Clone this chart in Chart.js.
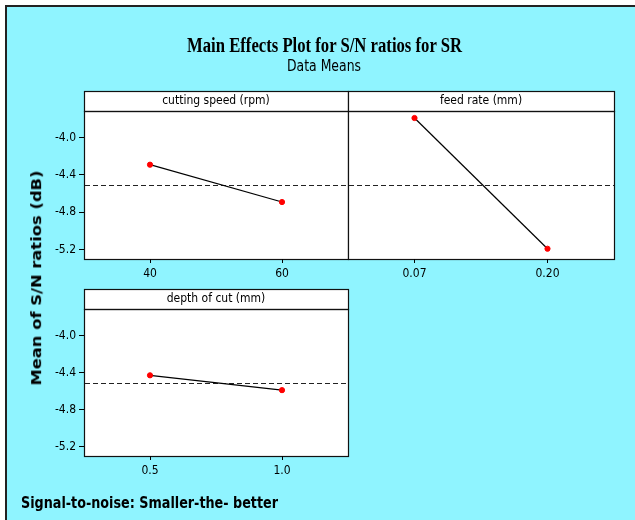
<!DOCTYPE html>
<html><head><meta charset="utf-8">
<script src="https://cdn.jsdelivr.net/npm/chart.js@4/dist/chart.umd.min.js"></script>
<style>
html,body{margin:0;padding:0;background:#fff;width:635px;height:520px;overflow:hidden;}
#frame{position:absolute;left:5px;top:5px;width:640px;height:525px;background:#8ff4ff;border-left:2px solid #222;border-top:2px solid #222;box-sizing:border-box;}
canvas{position:absolute;left:0;top:0;}
.txt{position:absolute;white-space:nowrap;color:#000;line-height:1;transform-origin:0 0;}
#title{font-family:"Liberation Serif","Times New Roman",serif;font-weight:bold;font-size:20px;top:34.5px;}
#sub{font-family:"DejaVu Sans Condensed","DejaVu Sans",sans-serif;font-size:16.5px;top:57.8px;}
#foot{font-family:"DejaVu Sans Condensed","DejaVu Sans",sans-serif;font-weight:bold;font-size:15px;top:496.2px;left:21px;}
#ylab{font-family:"DejaVu Sans","Verdana",sans-serif;font-weight:bold;font-size:14px;transform-origin:50% 50%;}
</style></head>
<body>
<div id="frame"></div>
<canvas id="c1" width="635" height="520"></canvas>
<canvas id="c2" width="635" height="520"></canvas>
<canvas id="c3" width="635" height="520"></canvas>
<div class="txt" id="title">Main Effects Plot for S/N ratios for SR</div>
<div class="txt" id="sub">Data Means</div>
<div class="txt" id="ylab">Mean of S/N ratios (dB)</div>
<div class="txt" id="foot">Signal-to-noise: Smaller-the- better</div>
<script>
// ---- data ----
const speedLabels = ['40', '60'];
const speedSN = [-4.29, -4.69];
const feedLabels = ['0.07', '0.20'];
const feedSN = [-3.79, -5.19];
const depthLabels = ['0.5', '1.0'];
const depthSN = [-4.43, -4.59];
const grandMean = [-4.51];
const yTicks = [-4.0, -4.4, -4.8, -5.2];
const panelTitles = ['cutting speed (rpm)', 'feed rate (mm)', 'depth of cut (mm)'];

// ---- text fitting ----
function fitH(id, left, width) {
  const el = document.getElementById(id);
  const w = el.getBoundingClientRect().width;
  el.style.left = left + 'px';
  el.style.transform = 'scaleX(' + (width / w) + ')';
}
fitH('title', 187, 275);
fitH('sub', 287, 74);
fitH('foot', 21, 257);
(function () {
  const el = document.getElementById('ylab');
  const r = el.getBoundingClientRect();
  const cx = 36, cy = 277.5, L = 215;
  el.style.left = (cx - r.width / 2) + 'px';
  el.style.top = (cy - r.height / 2) + 'px';
  el.style.transform = 'rotate(-90deg) scaleX(' + (L / r.width) + ')';
})();

// ---- chart panels ----
const tickFont = { family: '"DejaVu Sans Condensed","DejaVu Sans",sans-serif', size: 12 };
const headFont = { family: '"DejaVu Sans Condensed","DejaVu Sans",sans-serif', size: 12, weight: 'normal', lineHeight: 20 / 12 };

const panelPlugin = {
  id: 'panelBox',
  beforeDraw(chart) {
    const { ctx, chartArea: a } = chart;
    const l = Math.round(a.left), r = Math.round(a.right), t = Math.round(a.top), b = Math.round(a.bottom);
    ctx.save();
    ctx.fillStyle = '#fff';
    ctx.fillRect(l, t - 20, r - l, b - t + 20);
    ctx.strokeStyle = '#111';
    ctx.lineWidth = 1.2;
    ctx.strokeRect(l + 0.5, t - 20 + 0.5, r - l, 20);
    ctx.strokeRect(l + 0.5, t + 0.5, r - l, b - t);
    ctx.restore();
  },
  beforeDatasetsDraw(chart) {
    const { ctx, chartArea: a, scales } = chart;
    const y = Math.round(scales.y.getPixelForValue(grandMean[0])) + 0.5;
    ctx.save();
    ctx.strokeStyle = '#222';
    ctx.lineWidth = 1;
    ctx.setLineDash([5, 3]);
    ctx.beginPath();
    ctx.moveTo(a.left + 1, y);
    ctx.lineTo(a.right, y);
    ctx.stroke();
    ctx.restore();
  }
};

function panel(id, labels, values, header, area, showY) {
  const yW = 45, xH = 30, headH = 20;
  return new Chart(document.getElementById(id), {
    type: 'line',
    data: {
      labels: labels,
      datasets: [{
        data: values,
        borderColor: '#000', borderWidth: 1.2, tension: 0,
        pointRadius: 2.6, pointBorderWidth: 1,
        pointBackgroundColor: '#ff0000', pointBorderColor: '#ff0000'
      }]
    },
    options: {
      responsive: false, animation: false, events: [],
      layout: { padding: {
        left: showY ? area.left - yW : area.left,
        top: area.top - headH,
        right: 635 - area.right,
        bottom: 520 - area.bottom - xH
      } },
      plugins: {
        legend: { display: false }, tooltip: { enabled: false },
        title: { display: true, text: header, fullSize: false, padding: 0, color: '#000', font: headFont }
      },
      scales: {
        x: {
          type: 'category', offset: true,
          grid: { display: true, drawOnChartArea: false, drawTicks: true, tickLength: 4, color: '#000' },
          border: { display: false },
          ticks: { color: '#000', font: tickFont, padding: 4, maxRotation: 0, autoSkip: false },
          afterFit: s => { s.height = xH; }
        },
        y: {
          display: showY, min: -5.30, max: -3.715,
          grid: { display: true, drawOnChartArea: false, drawTicks: true, tickLength: 5, color: '#000' },
          border: { display: false },
          ticks: { color: '#000', font: tickFont, padding: 3, callback: v => v.toFixed(1) },
          afterBuildTicks: s => { s.ticks = yTicks.map(v => ({ value: v })); },
          afterFit: s => { s.width = showY ? yW : 0; }
        }
      }
    },
    plugins: [panelPlugin]
  });
}

panel('c1', speedLabels, speedSN, panelTitles[0], { left: 84, right: 348, top: 111, bottom: 259 }, true);
panel('c2', feedLabels, feedSN, panelTitles[1], { left: 348, right: 614, top: 111, bottom: 259 }, false);
panel('c3', depthLabels, depthSN, panelTitles[2], { left: 84, right: 348, top: 309, bottom: 456 }, true);
</script>
</body></html>
